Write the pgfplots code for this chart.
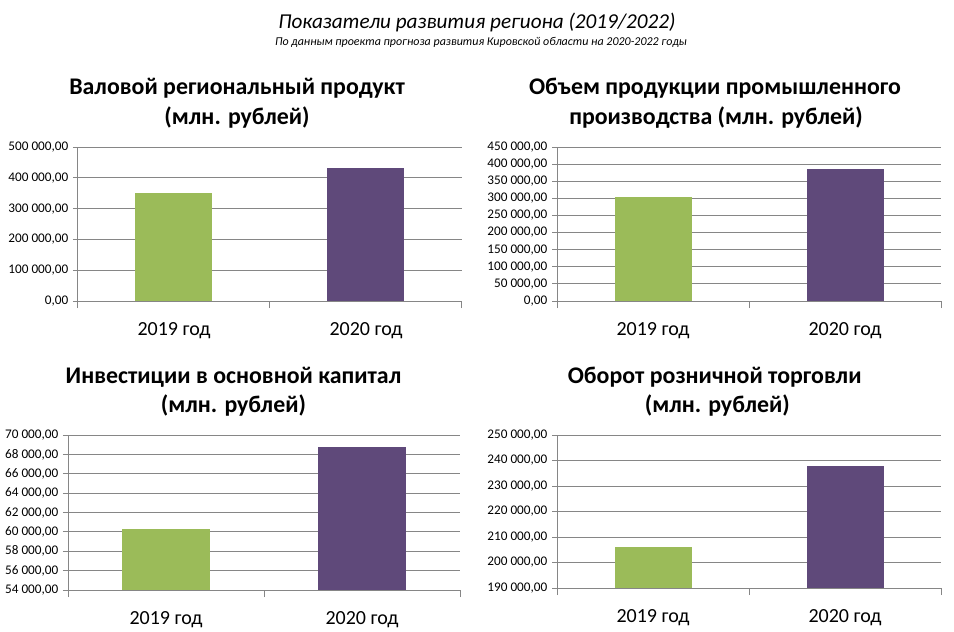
\documentclass[border=0pt]{standalone}
\usepackage{pgfplots}
\pgfplotsset{compat=1.18}
\usepackage{fontspec}
\setmainfont{Carlito}
\definecolor{bargreen}{HTML}{9BBB59}
\definecolor{barpurple}{HTML}{5F497A}
\definecolor{gridgray}{HTML}{868686}
\pgfplotsset{panel/.style={
  scale only axis,
  xmin=-0.5, xmax=1.5,
  axis lines=left,
  axis line style={-, gridgray, line width=0.75pt},
  xtick={0,1},
  xticklabels={2019 год, 2020 год},
  minor xtick={-0.5,0.5,1.5},
  tick align=outside,
  major tick length=3.75pt,
  minor tick length=5.25pt,
  x tick style={draw=none},
  minor x tick style={draw=gridgray, line width=0.75pt},
  y tick style={gridgray, line width=0.75pt},
  ymajorgrids,
  grid style={gridgray, line width=0.75pt},
  scaled y ticks=false,
  xticklabel style={font=\fontsize{15}{17}\selectfont, yshift=-8.5pt},
  yticklabel style={font=\fontsize{9.9}{11}\selectfont},
  /pgf/number format/assume math mode=true,
  yticklabel={\pgfmathprintnumber[fixed, fixed zerofill, precision=2, use comma, 1000 sep={\ }]{\tick}},
  ybar,
  clip=true,
}}
\begin{document}
\begin{tikzpicture}
\path (0,0) rectangle (715.5pt,-469.5pt);
\node[font=\itshape\fontsize{15.9}{18}\selectfont] at (357.75pt,-16.5pt) {Показатели развития региона (2019/2022)};
\node[font=\itshape\fontsize{9}{10}\selectfont] at (360.75pt,-31.5pt) {По данным проекта прогноза развития Кировской области на 2020-2022 годы};
% titles
\node[font=\bfseries\fontsize{17.9}{20}\selectfont] at (177.75pt,-66pt) {Валовой региональный продукт};
\node[font=\bfseries\fontsize{17.9}{20}\selectfont] at (177.75pt,-88.5pt) {(млн. рублей)};
\node[font=\bfseries\fontsize{17.9}{20}\selectfont] at (536.25pt,-66pt) {Объем продукции промышленного};
\node[font=\bfseries\fontsize{17.9}{20}\selectfont] at (537pt,-88.5pt) {производства (млн. рублей)};
\node[font=\bfseries\fontsize{17.9}{20}\selectfont] at (175.1pt,-282.75pt) {Инвестиции в основной капитал};
\node[font=\bfseries\fontsize{17.9}{20}\selectfont] at (175.1pt,-304.5pt) {(млн. рублей)};
\node[font=\bfseries\fontsize{17.9}{20}\selectfont] at (536pt,-282.75pt) {Оборот розничной торговли};
\node[font=\bfseries\fontsize{17.9}{20}\selectfont] at (538pt,-304.5pt) {(млн. рублей)};

\begin{axis}[panel, at={(58.5pt,-225.75pt)}, anchor=south west, width=288pt, height=115.5pt,
  ymin=0, ymax=500000, ytick={0,100000,...,500000}, bar width=57.75pt]
\addplot[fill=bargreen, draw=none, bar shift=0pt] coordinates {(0,352000)};
\addplot[fill=barpurple, draw=none, bar shift=0pt] coordinates {(1,433000)};
\end{axis}

\begin{axis}[panel, at={(417.75pt,-225.75pt)}, anchor=south west, width=288pt, height=115.5pt,
  ymin=0, ymax=450000, ytick={0,50000,...,450000}, bar width=57.75pt]
\addplot[fill=bargreen, draw=none, bar shift=0pt] coordinates {(0,304000)};
\addplot[fill=barpurple, draw=none, bar shift=0pt] coordinates {(1,386000)};
\end{axis}

\begin{axis}[panel, at={(51pt,-442.5pt)}, anchor=south west, width=294pt, height=116.25pt,
  ymin=54000, ymax=70000, ytick={54000,56000,...,70000}, bar width=65.25pt]
\addplot[fill=bargreen, draw=none, bar shift=0pt] coordinates {(0,60300)};
\addplot[fill=barpurple, draw=none, bar shift=0pt] coordinates {(1,68760)};
\end{axis}

\begin{axis}[panel, at={(417.75pt,-441pt)}, anchor=south west, width=288pt, height=114.75pt,
  ymin=190000, ymax=250000, ytick={190000,200000,...,250000}, bar width=57.75pt]
\addplot[fill=bargreen, draw=none, bar shift=0pt] coordinates {(0,206100)};
\addplot[fill=barpurple, draw=none, bar shift=0pt] coordinates {(1,237800)};
\end{axis}
\end{tikzpicture}
\end{document}
